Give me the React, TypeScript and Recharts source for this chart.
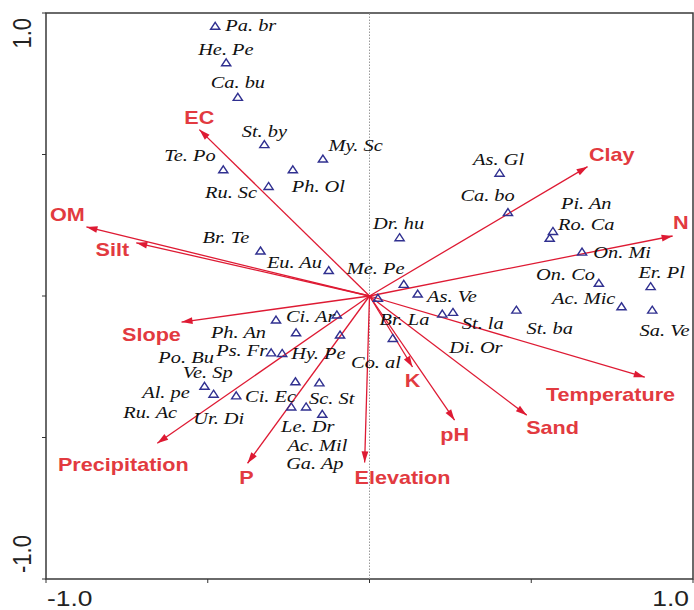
import { ScatterChart, Scatter, XAxis, YAxis, ReferenceLine, ReferenceArea } from 'recharts';

// environmental variables: arrow tips and label positions (axis units)
const envNames = ['EC', 'OM', 'Silt', 'Clay', 'N', 'Slope', 'Precipitation', 'P', 'Elevation', 'K', 'pH', 'Sand', 'Temperature'];
const envX = [-0.526, -0.875, -0.721, 0.674, 0.937, -0.581, -0.656, -0.377, -0.015, 0.133, 0.263, 0.486, 0.851];
const envY = [0.588, 0.244, 0.188, 0.457, 0.212, -0.092, -0.52, -0.591, -0.588, -0.251, -0.439, -0.421, -0.287];
const envLabelX = [-0.526, -0.934, -0.795, 0.749, 0.962, -0.674, -0.761, -0.38, 0.102, 0.133, 0.263, 0.566, 0.745];
const envLabelY = [0.63, 0.287, 0.163, 0.499, 0.258, -0.135, -0.595, -0.641, -0.641, -0.297, -0.488, -0.464, -0.347];

// species scores
const speciesX = [
  -0.477, -0.443, -0.407, -0.325, -0.144, -0.452, -0.237, -0.312, -0.337, -0.126, 0.106,
  0.093, 0.402, 0.428, 0.567, 0.557, 0.657, 0.709, 0.869, 0.779, 0.874, 0.454, 0.225,
  0.258, 0.149, 0.026, 0.072, -0.289, -0.101, -0.227, -0.091, -0.304, -0.27, -0.51,
  -0.482, -0.412, -0.229, -0.155, -0.242, -0.196, -0.146,
];
const speciesY = [
  0.953, 0.824, 0.702, 0.535, 0.484, 0.446, 0.446, 0.387, 0.159, 0.09, 0.041,
  0.206, 0.434, 0.295, 0.228, 0.204, 0.155, 0.045, 0.033, -0.038, -0.05, -0.05, -0.064,
  -0.058, 0.007, -0.008, -0.15, -0.085, -0.067, -0.13, -0.138, -0.201, -0.203, -0.319,
  -0.347, -0.353, -0.303, -0.307, -0.392, -0.392, -0.418,
];

// species labels
const labelNames = [
  'Pa. br', 'He. Pe', 'Ca. bu', 'St. by', 'My. Sc', 'Te. Po', 'Ph. Ol', 'Ru. Sc', 'Br. Te', 'Eu. Au',
  'Me. Pe', 'Dr. hu', 'As. Gl', 'Ca. bo', 'Pi. An', 'Ro. Ca', 'On. Mi', 'On. Co', 'Er. Pl', 'Ac. Mic',
  'Sa. Ve', 'St. ba', 'St. la', 'Di. Or', 'As. Ve', 'Br. La', 'Co. al', 'Ci. Ar', 'Ph. An', 'Ps. Fr',
  'Po. Bu', 'Hy. Pe', 'Ve. Sp', 'Al. pe', 'Ci. Ec', 'Sc. St', 'Ru. Ac', 'Ur. Di', 'Le. Dr', 'Ac. Mil', 'Ga. Ap',
];
const labelX = [
  -0.367, -0.444, -0.407, -0.325, -0.043, -0.555, -0.158, -0.428, -0.444, -0.232,
  0.019, 0.09, 0.399, 0.365, 0.67, 0.67, 0.781, 0.606, 0.903, 0.662,
  0.912, 0.557, 0.35, 0.329, 0.255, 0.108, 0.02, -0.182, -0.405, -0.395,
  -0.567, -0.158, -0.5, -0.629, -0.306, -0.117, -0.678, -0.466, -0.191, -0.161, -0.169,
];
const labelY = [
  0.957, 0.871, 0.755, 0.582, 0.535, 0.497, 0.387, 0.366, 0.21, 0.121,
  0.099, 0.259, 0.484, 0.358, 0.328, 0.255, 0.155, 0.078, 0.086, -0.006,
  -0.12, -0.114, -0.097, -0.179, 0.001, -0.082, -0.233, -0.071, -0.126, -0.191,
  -0.215, -0.203, -0.268, -0.339, -0.353, -0.362, -0.41, -0.433, -0.46, -0.527, -0.591,
];

const axisTicks = [-1, -0.5, 0, 0.5, 1];
const tickText: Record<string, string> = { '-1': '-1.0', '1': '1.0' };

const env = envNames.map((name, i) => ({ name, x: envX[i], y: envY[i] }));
const envLabels = envNames.map((name, i) => ({ name, x: envLabelX[i], y: envLabelY[i] }));
const species = speciesX.map((x, i) => ({ x, y: speciesY[i] }));
const speciesLabels = labelNames.map((name, i) => ({ name, x: labelX[i], y: labelY[i] }));

// pixels per axis unit (plot is 647 x 566)
const KX = 323.5;
const KY = 283;
const STRETCH = 'scale(1.2,1)';
const RED = '#de1a33';

const Triangle = (p: any) => (
  <path
    d={`M${p.cx},${p.cy - 4} L${p.cx + 4.6},${p.cy + 3} L${p.cx - 4.6},${p.cy + 3} Z`}
    fill="none"
    stroke="#303090"
    strokeWidth={1.4}
  />
);

const ArrowHead = (p: any) => {
  const a = Math.atan2(-p.payload.y * KY, p.payload.x * KX);
  const L = 11;
  const w = 3.4;
  const bx = p.cx - L * Math.cos(a);
  const by = p.cy - L * Math.sin(a);
  const nx = -Math.sin(a) * w;
  const ny = Math.cos(a) * w;
  return <path d={`M${p.cx},${p.cy} L${bx + nx},${by + ny} L${bx - nx},${by - ny} Z`} fill={RED} />;
};

const SpeciesLabel = (p: any) => (
  <text
    transform={`translate(${p.cx},${p.cy}) ${STRETCH}`}
    textAnchor="middle"
    dy="0.35em"
    fontFamily="'Liberation Serif', 'Times New Roman', serif"
    fontStyle="italic"
    fontSize={17}
    fill="#111"
  >
    {p.payload.name}
  </text>
);

const EnvLabel = (p: any) => (
  <text
    transform={`translate(${p.cx},${p.cy}) ${STRETCH}`}
    textAnchor="middle"
    dy="0.36em"
    fontFamily="'Liberation Sans', Arial, sans-serif"
    fontWeight="bold"
    fontSize={18}
    fill="#e23a40"
  >
    {p.payload.name}
  </text>
);

const XTick = (p: any) => {
  const t = tickText[String(p.payload.value)];
  if (!t) return null;
  return (
    <text
      transform={`translate(${p.x + (p.payload.value < 0 ? 1 : -1)},${p.y + 21}) ${STRETCH}`}
      textAnchor={p.payload.value < 0 ? 'start' : 'end'}
      fontFamily="'Liberation Sans', Arial, sans-serif"
      fontSize={22}
      fill="#222"
    >
      {t}
    </text>
  );
};

const YTick = (p: any) => {
  const t = tickText[String(p.payload.value)];
  if (!t) return null;
  const top = p.payload.value > 0;
  return (
    <text
      transform={`translate(${p.x - 9},${p.y + (top ? 5 : -6)}) ${STRETCH} rotate(-90)`}
      textAnchor={top ? 'end' : 'start'}
      fontFamily="'Liberation Sans', Arial, sans-serif"
      fontSize={22}
      fill="#222"
    >
      {t}
    </text>
  );
};

export default function App() {
  return (
    <div style={{ position: 'absolute', left: 0, top: 0, background: '#fff' }}>
      <ScatterChart width={694} height={610} margin={{ top: 13, right: 1, bottom: 0, left: 0 }}>
        <XAxis
          type="number"
          dataKey="x"
          domain={[-1, 1]}
          ticks={axisTicks}
          axisLine={false}
          tickSize={4}
          tickLine={{ stroke: '#333' }}
          tick={<XTick />}
          height={31}
          allowDataOverflow
        />
        <YAxis
          type="number"
          dataKey="y"
          domain={[-1, 1]}
          ticks={axisTicks}
          axisLine={false}
          tickSize={4}
          tickLine={{ stroke: '#333' }}
          tick={<YTick />}
          width={46}
          allowDataOverflow
        />
        <ReferenceArea x1={-1} x2={1} y1={-1} y2={1} fill="none" fillOpacity={0} stroke="#3a3a3a" strokeWidth={1.5} />
        <ReferenceLine x={0} stroke="#9a9a9a" strokeDasharray="1.5 1.5" />
        <Scatter data={species} shape={<Triangle />} isAnimationActive={false} />
        {env.map((e) => (
          <ReferenceLine
            key={e.name}
            segment={[{ x: 0, y: 0 }, { x: e.x, y: e.y }]}
            stroke={RED}
            strokeWidth={1.3}
          />
        ))}
        <Scatter data={env} shape={<ArrowHead />} isAnimationActive={false} />
        <Scatter data={speciesLabels} shape={<SpeciesLabel />} isAnimationActive={false} />
        <Scatter data={envLabels} shape={<EnvLabel />} isAnimationActive={false} />
      </ScatterChart>
    </div>
  );
}
